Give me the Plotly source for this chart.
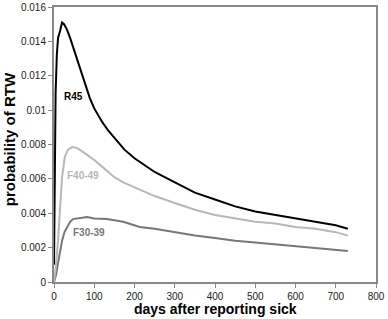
import plotly.graph_objects as go

days_r45 = [0, 2, 4, 7, 10, 15, 20, 25, 32, 40, 47, 55, 65, 77, 89, 100, 110, 120, 135, 150, 175, 200, 225, 250, 275, 300, 350, 400, 450, 500, 550, 600, 650, 700, 730]
r45 = [0.0010, 0.0060, 0.0110, 0.0132, 0.0142, 0.0146, 0.0151, 0.0150, 0.0147, 0.0142, 0.0137, 0.0132, 0.0125, 0.0116, 0.0107, 0.0101, 0.0097, 0.0093, 0.0088, 0.0084, 0.0077, 0.0072, 0.0068, 0.0064, 0.0061, 0.0058, 0.0052, 0.0048, 0.0044, 0.0041, 0.0039, 0.0037, 0.0035, 0.0033, 0.0031]

days_f40 = [0, 5, 10, 15, 20, 27, 35, 45, 57, 70, 89, 100, 115, 131, 150, 172, 200, 250, 300, 350, 400, 450, 500, 550, 600, 650, 700, 730]
f40 = [0.0, 0.0010, 0.0024, 0.0044, 0.0061, 0.0073, 0.0077, 0.00785, 0.0078, 0.0076, 0.0073, 0.0071, 0.0068, 0.0065, 0.0061, 0.0058, 0.0055, 0.0050, 0.0046, 0.0042, 0.0039, 0.0037, 0.0035, 0.0034, 0.0032, 0.0031, 0.0029, 0.0027]

days_f30 = [0, 5, 10, 15, 20, 26, 32, 40, 47, 60, 82, 100, 131, 172, 213, 250, 300, 350, 400, 450, 500, 550, 600, 650, 700, 730]
f30 = [0.0, 0.0004, 0.0011, 0.0018, 0.0024, 0.0029, 0.0032, 0.0035, 0.00366, 0.0037, 0.00378, 0.0037, 0.00366, 0.0035, 0.0032, 0.0031, 0.0029, 0.0027, 0.00256, 0.0024, 0.0023, 0.0022, 0.0021, 0.0020, 0.0019, 0.0018]

y_ticks = [0, 0.002, 0.004, 0.006, 0.008, 0.01, 0.012, 0.014, 0.016]
y_tick_text = ["0", "0.002", "0.004", "0.006", "0.008", "0.01", "0.012", "0.014", "0.016"]
x_ticks = [0, 100, 200, 300, 400, 500, 600, 700, 800]

labels = [("R45", 20, 0.0108, "#000000"), ("F40-49", 27, 0.0062, "#b8b8b8"), ("F30-39", 43, 0.0029, "#777777")]

FONT = "Liberation Sans, Arial, Helvetica"

fig = go.Figure()
fig.add_trace(go.Scatter(x=days_f30, y=f30, mode="lines", line=dict(color="#777777", width=2), showlegend=False))
fig.add_trace(go.Scatter(x=days_f40, y=f40, mode="lines", line=dict(color="#b8b8b8", width=2), showlegend=False))
fig.add_trace(go.Scatter(x=days_r45, y=r45, mode="lines", line=dict(color="#000000", width=2), showlegend=False))

for txt, xv, yv, col in labels:
    fig.add_annotation(x=xv, y=yv, text="<b>%s</b>" % txt, showarrow=False, xanchor="left",
                       font=dict(size=10, color=col, family=FONT))

# axis titles as paper-positioned annotations
fig.add_annotation(xref="paper", yref="paper", x=0.5, y=-0.098, text="<b>days after reporting sick</b>",
                   showarrow=False, xanchor="center", yanchor="middle",
                   font=dict(size=14, color="#000000", family=FONT))
fig.add_annotation(xref="paper", yref="paper", x=-0.139, y=0.52, text="<b>probability of RTW</b>",
                   showarrow=False, xanchor="center", yanchor="middle", textangle=-90,
                   font=dict(size=15, color="#000000", family=FONT))

fig.update_layout(
    width=388, height=319,
    margin=dict(l=54, r=12, t=7, b=37),
    paper_bgcolor="white", plot_bgcolor="white",
    font=dict(family=FONT, size=10, color="#222222"),
)
fig.update_xaxes(range=[0, 800], tickvals=x_ticks, ticks="outside", ticklen=4, tickcolor="#888888",
                 showline=True, linecolor="#888888", linewidth=2, mirror=True, showgrid=False, zeroline=False,
                 automargin=False)
fig.update_yaxes(range=[0, 0.016], tickvals=y_ticks, ticktext=y_tick_text, ticks="outside", ticklen=4, tickcolor="#888888",
                 showline=True, linecolor="#888888", linewidth=2, mirror=True, showgrid=False, zeroline=False,
                 automargin=False)

fig.write_html("out.html", config={"displayModeBar": False},
               post_script="document.body.style.margin='0';document.body.style.overflow='hidden';")
